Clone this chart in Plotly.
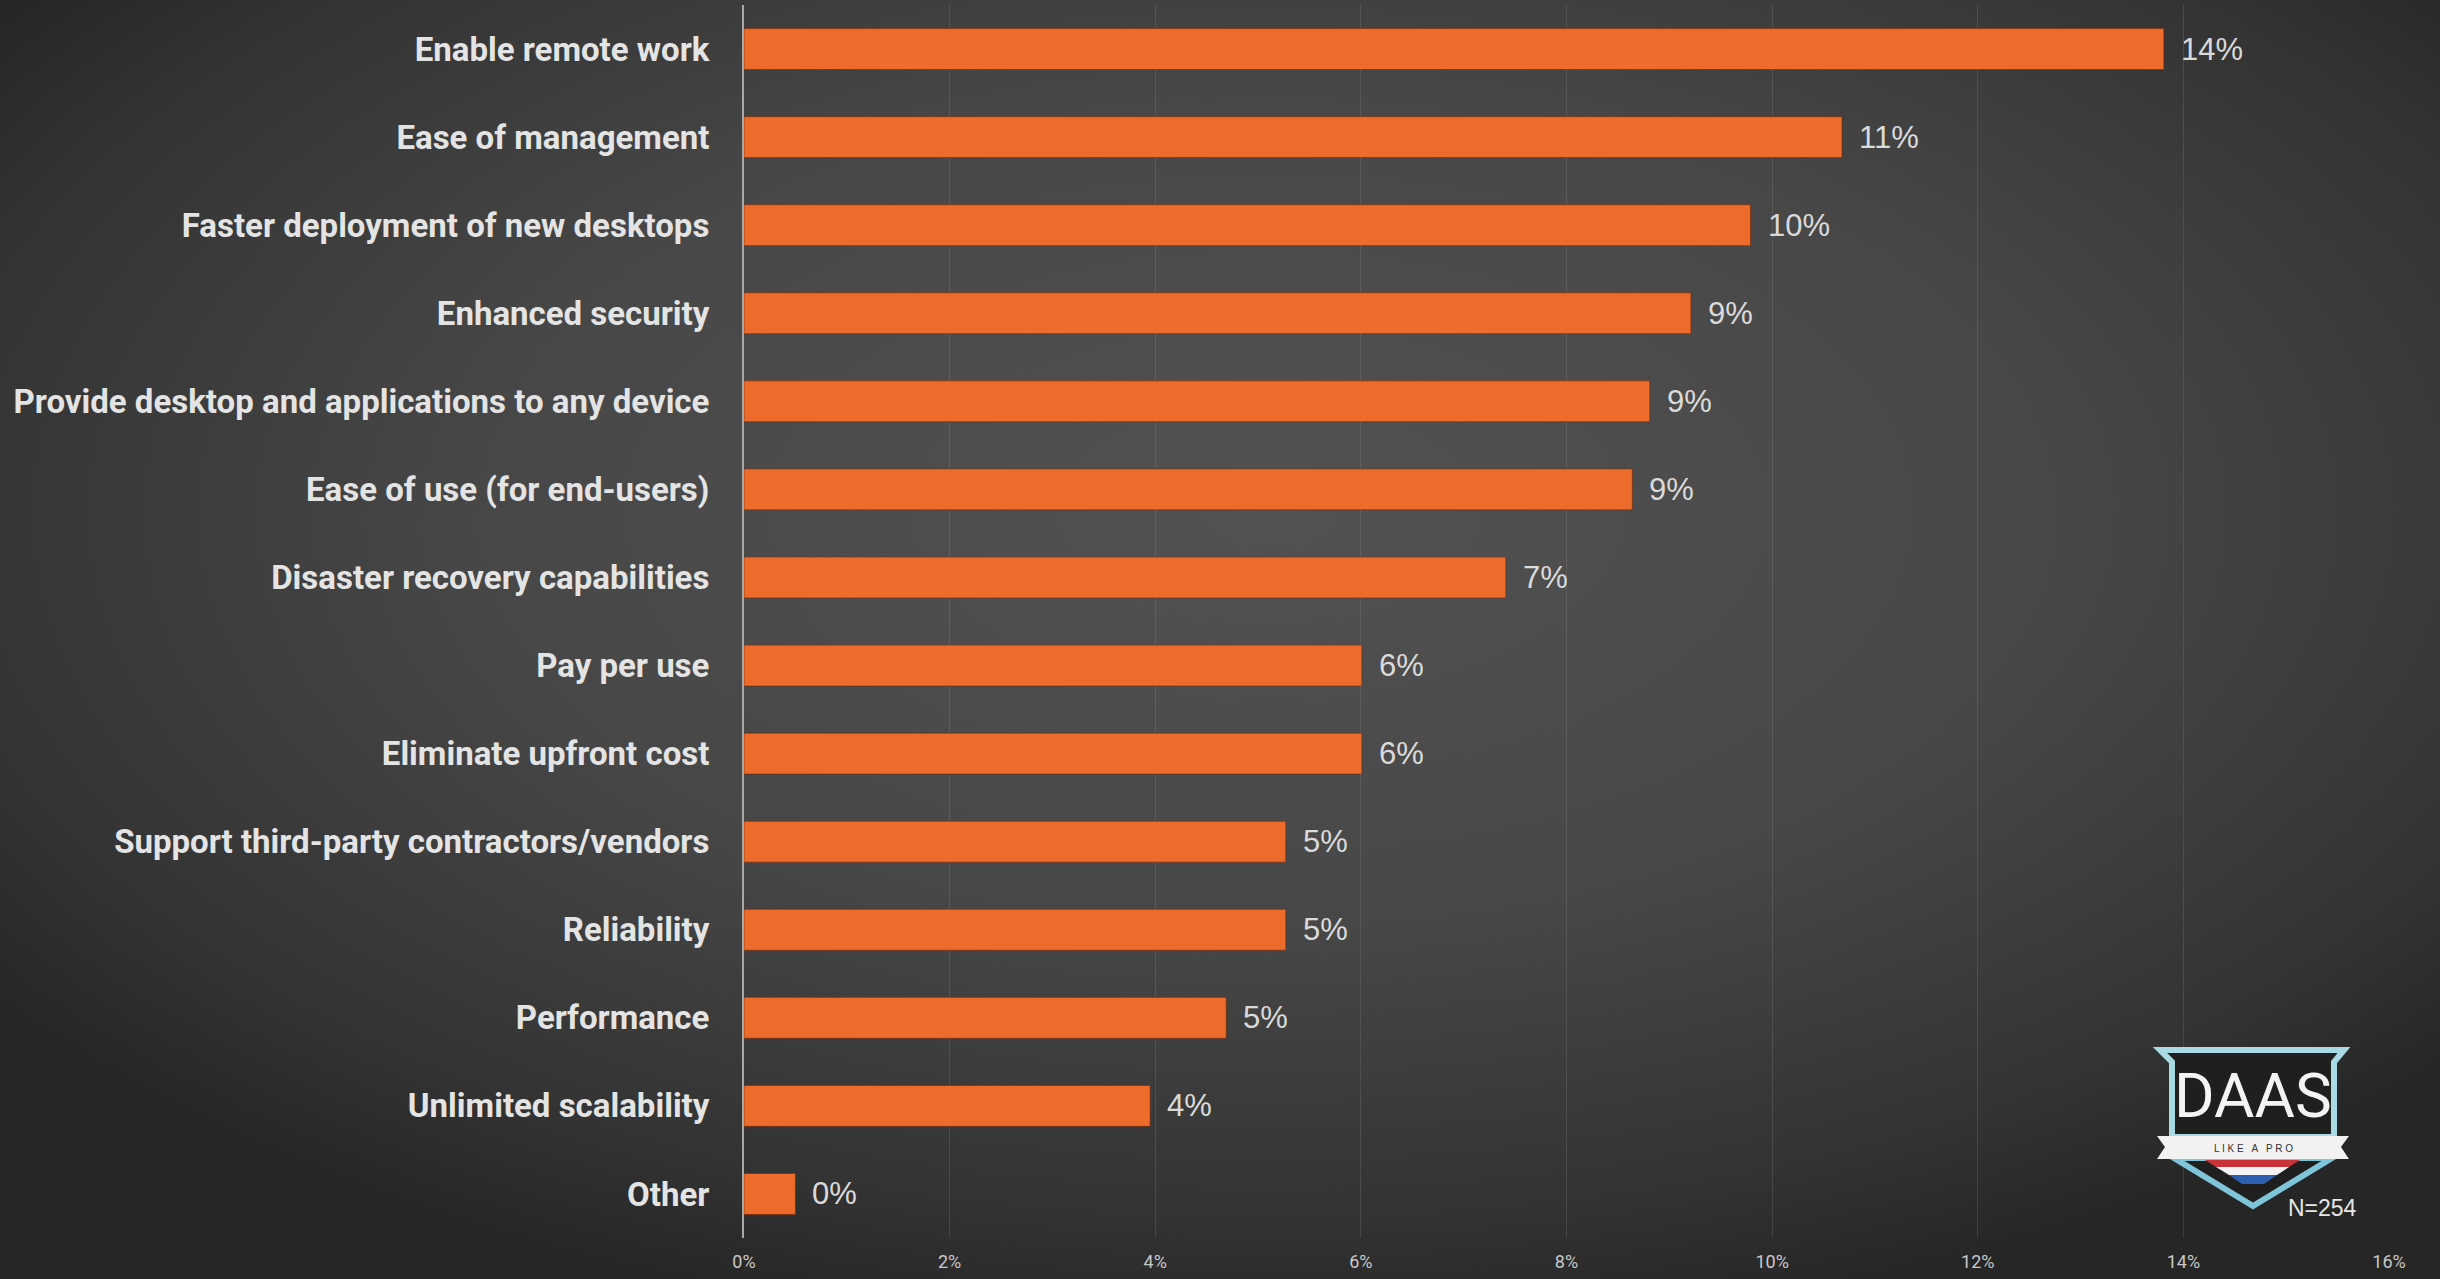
import base64
import plotly.graph_objects as go

# ---------------- data ----------------
categories = [
    "Enable remote work",
    "Ease of management",
    "Faster deployment of new desktops",
    "Enhanced security",
    "Provide desktop and applications to any device",
    "Ease of use (for end-users)",
    "Disaster recovery capabilities",
    "Pay per use",
    "Eliminate upfront cost",
    "Support third-party contractors/vendors",
    "Reliability",
    "Performance",
    "Unlimited scalability",
    "Other",
]
values = [0.1381, 0.1068, 0.0979, 0.0921, 0.0881, 0.0864, 0.0741,
          0.0601, 0.0601, 0.0527, 0.0527, 0.0469, 0.0395, 0.0050]
x_ticks = [0, 0.02, 0.04, 0.06, 0.08, 0.10, 0.12, 0.14, 0.16]
x_tick_labels = ["0%", "2%", "4%", "6%", "8%", "10%", "12%", "14%", "16%"]
sample_note = "N=254"
logo_title = "DAAS"
logo_tagline = "L I K E   A   P R O"

# ---------------- geometry helpers (figure pixels -> paper) ----------------
W, H = 2440, 1279


def px(x):
    return x / W


def py(y):
    return 1 - y / H


def path(points):
    return "M " + " L ".join(f"{px(a):.5f},{py(b):.5f}" for a, b in points) + " Z"


# background vignette as svg image
svg = (
    f'<svg xmlns="http://www.w3.org/2000/svg" width="{W}" height="{H}" '
    f'viewBox="0 0 {W} {H}" preserveAspectRatio="none">'
    '<defs><radialGradient id="g" cx="0.52" cy="0.40" r="0.65">'
    '<stop offset="0" stop-color="#525252"/>'
    '<stop offset="0.5" stop-color="#474747"/>'
    '<stop offset="0.85" stop-color="#333333"/>'
    '<stop offset="1" stop-color="#262626"/>'
    '</radialGradient></defs>'
    f'<rect x="0" y="0" width="{W}" height="{H}" fill="url(#g)"/></svg>'
)
bg_src = "data:image/svg+xml;base64," + base64.b64encode(svg.encode()).decode()

LABEL_FONT = "Roboto, Liberation Sans, Arial"

fig = go.Figure()
fig.add_trace(go.Bar(
    x=values, y=categories, orientation="h",
    marker=dict(color="#ED6B2B", line=dict(color="rgba(120,40,5,0.6)", width=1)),
    width=0.465, hoverinfo="x+y",
))

# value labels
for c, v in zip(categories, values):
    fig.add_annotation(
        x=v, y=c, xref="x", yref="y", text=f"{v:.0%}", showarrow=False,
        xanchor="left", yanchor="middle", xshift=15,
        font=dict(family="Liberation Sans, Arial", size=31, color="#dadada"),
    )

shapes = []
shield_top = [(2160, 1050), (2344, 1050), (2334, 1062), (2334, 1137),
              (2172, 1137), (2172, 1062)]
shapes.append(dict(type="path", path=path(shield_top), xref="paper", yref="paper",
                   fillcolor="#1f1f1f", line=dict(color="#a9d9e3", width=6), layer="above"))
shield_low = [(2174, 1158), (2332, 1158), (2253, 1206)]
shapes.append(dict(type="path", path=path(shield_low), xref="paper", yref="paper",
                   fillcolor="#1f1f1f", line=dict(color="#7fc4d8", width=6), layer="above"))
shapes.append(dict(type="path", path=path([(2205, 1160), (2300, 1160), (2289, 1167), (2216, 1167)]),
                   xref="paper", yref="paper", fillcolor="#c8343a", line=dict(width=0), layer="above"))
shapes.append(dict(type="path", path=path([(2216, 1167), (2289, 1167), (2277, 1175), (2229, 1175)]),
                   xref="paper", yref="paper", fillcolor="#f4f4f4", line=dict(width=0), layer="above"))
shapes.append(dict(type="path", path=path([(2229, 1175), (2277, 1175), (2264, 1184), (2242, 1184)]),
                   xref="paper", yref="paper", fillcolor="#2f5fb0", line=dict(width=0), layer="above"))
banner = [(2157, 1136), (2349, 1136), (2341, 1147), (2349, 1159), (2157, 1159), (2165, 1147)]
shapes.append(dict(type="path", path=path(banner), xref="paper", yref="paper",
                   fillcolor="#f2f2f2", line=dict(width=0), layer="above"))

fig.add_annotation(x=px(2253), y=py(1095), xref="paper", yref="paper", text=logo_title,
                   showarrow=False, xanchor="center", yanchor="middle",
                   font=dict(family=LABEL_FONT, size=62, color="#f4f4f4"))
fig.add_annotation(x=px(2253), y=py(1148), xref="paper", yref="paper", text=logo_tagline,
                   showarrow=False, xanchor="center", yanchor="middle",
                   font=dict(family="Liberation Sans, Arial", size=10, color="#333333"))
fig.add_annotation(x=px(2322), y=py(1208), xref="paper", yref="paper", text=sample_note,
                   showarrow=False, xanchor="center", yanchor="middle",
                   font=dict(family="Liberation Sans, Arial", size=23, color="#e6e6e6"))

fig.update_layout(
    width=W, height=H,
    margin=dict(l=0, r=0, t=0, b=0),
    paper_bgcolor="#3a3a3a",
    plot_bgcolor="rgba(0,0,0,0)",
    showlegend=False,
    shapes=shapes,
    images=[dict(source=bg_src, xref="paper", yref="paper", x=0, y=1, sizex=1, sizey=1,
                 xanchor="left", yanchor="top", sizing="stretch", layer="below")],
    xaxis=dict(
        domain=[px(744), px(2389)], range=[0, 0.16],
        tickvals=x_ticks, ticktext=x_tick_labels,
        showgrid=True, gridcolor="rgba(255,255,255,0.10)", gridwidth=1,
        zeroline=False, showline=False, ticks="",
        tickfont=dict(family=LABEL_FONT, size=18, color="#c8c8c8"),
        ticklabelstandoff=11, automargin=False,
    ),
    yaxis=dict(
        domain=[1 - 1238 / H, 1 - 5 / H],
        categoryorder="array", categoryarray=categories,
        range=[len(categories) - 0.5, -0.5],
        showline=True, linecolor="#a8a8a8", linewidth=2,
        showgrid=False, zeroline=False, ticks="",
        tickfont=dict(family=LABEL_FONT, size=33, color="#e4e4e4", weight="bold"),
        ticklabelstandoff=26, automargin=False,
    ),
)

fig.write_html("out.html", config={"displayModeBar": False},
               post_script="document.body.style.margin='0';")
